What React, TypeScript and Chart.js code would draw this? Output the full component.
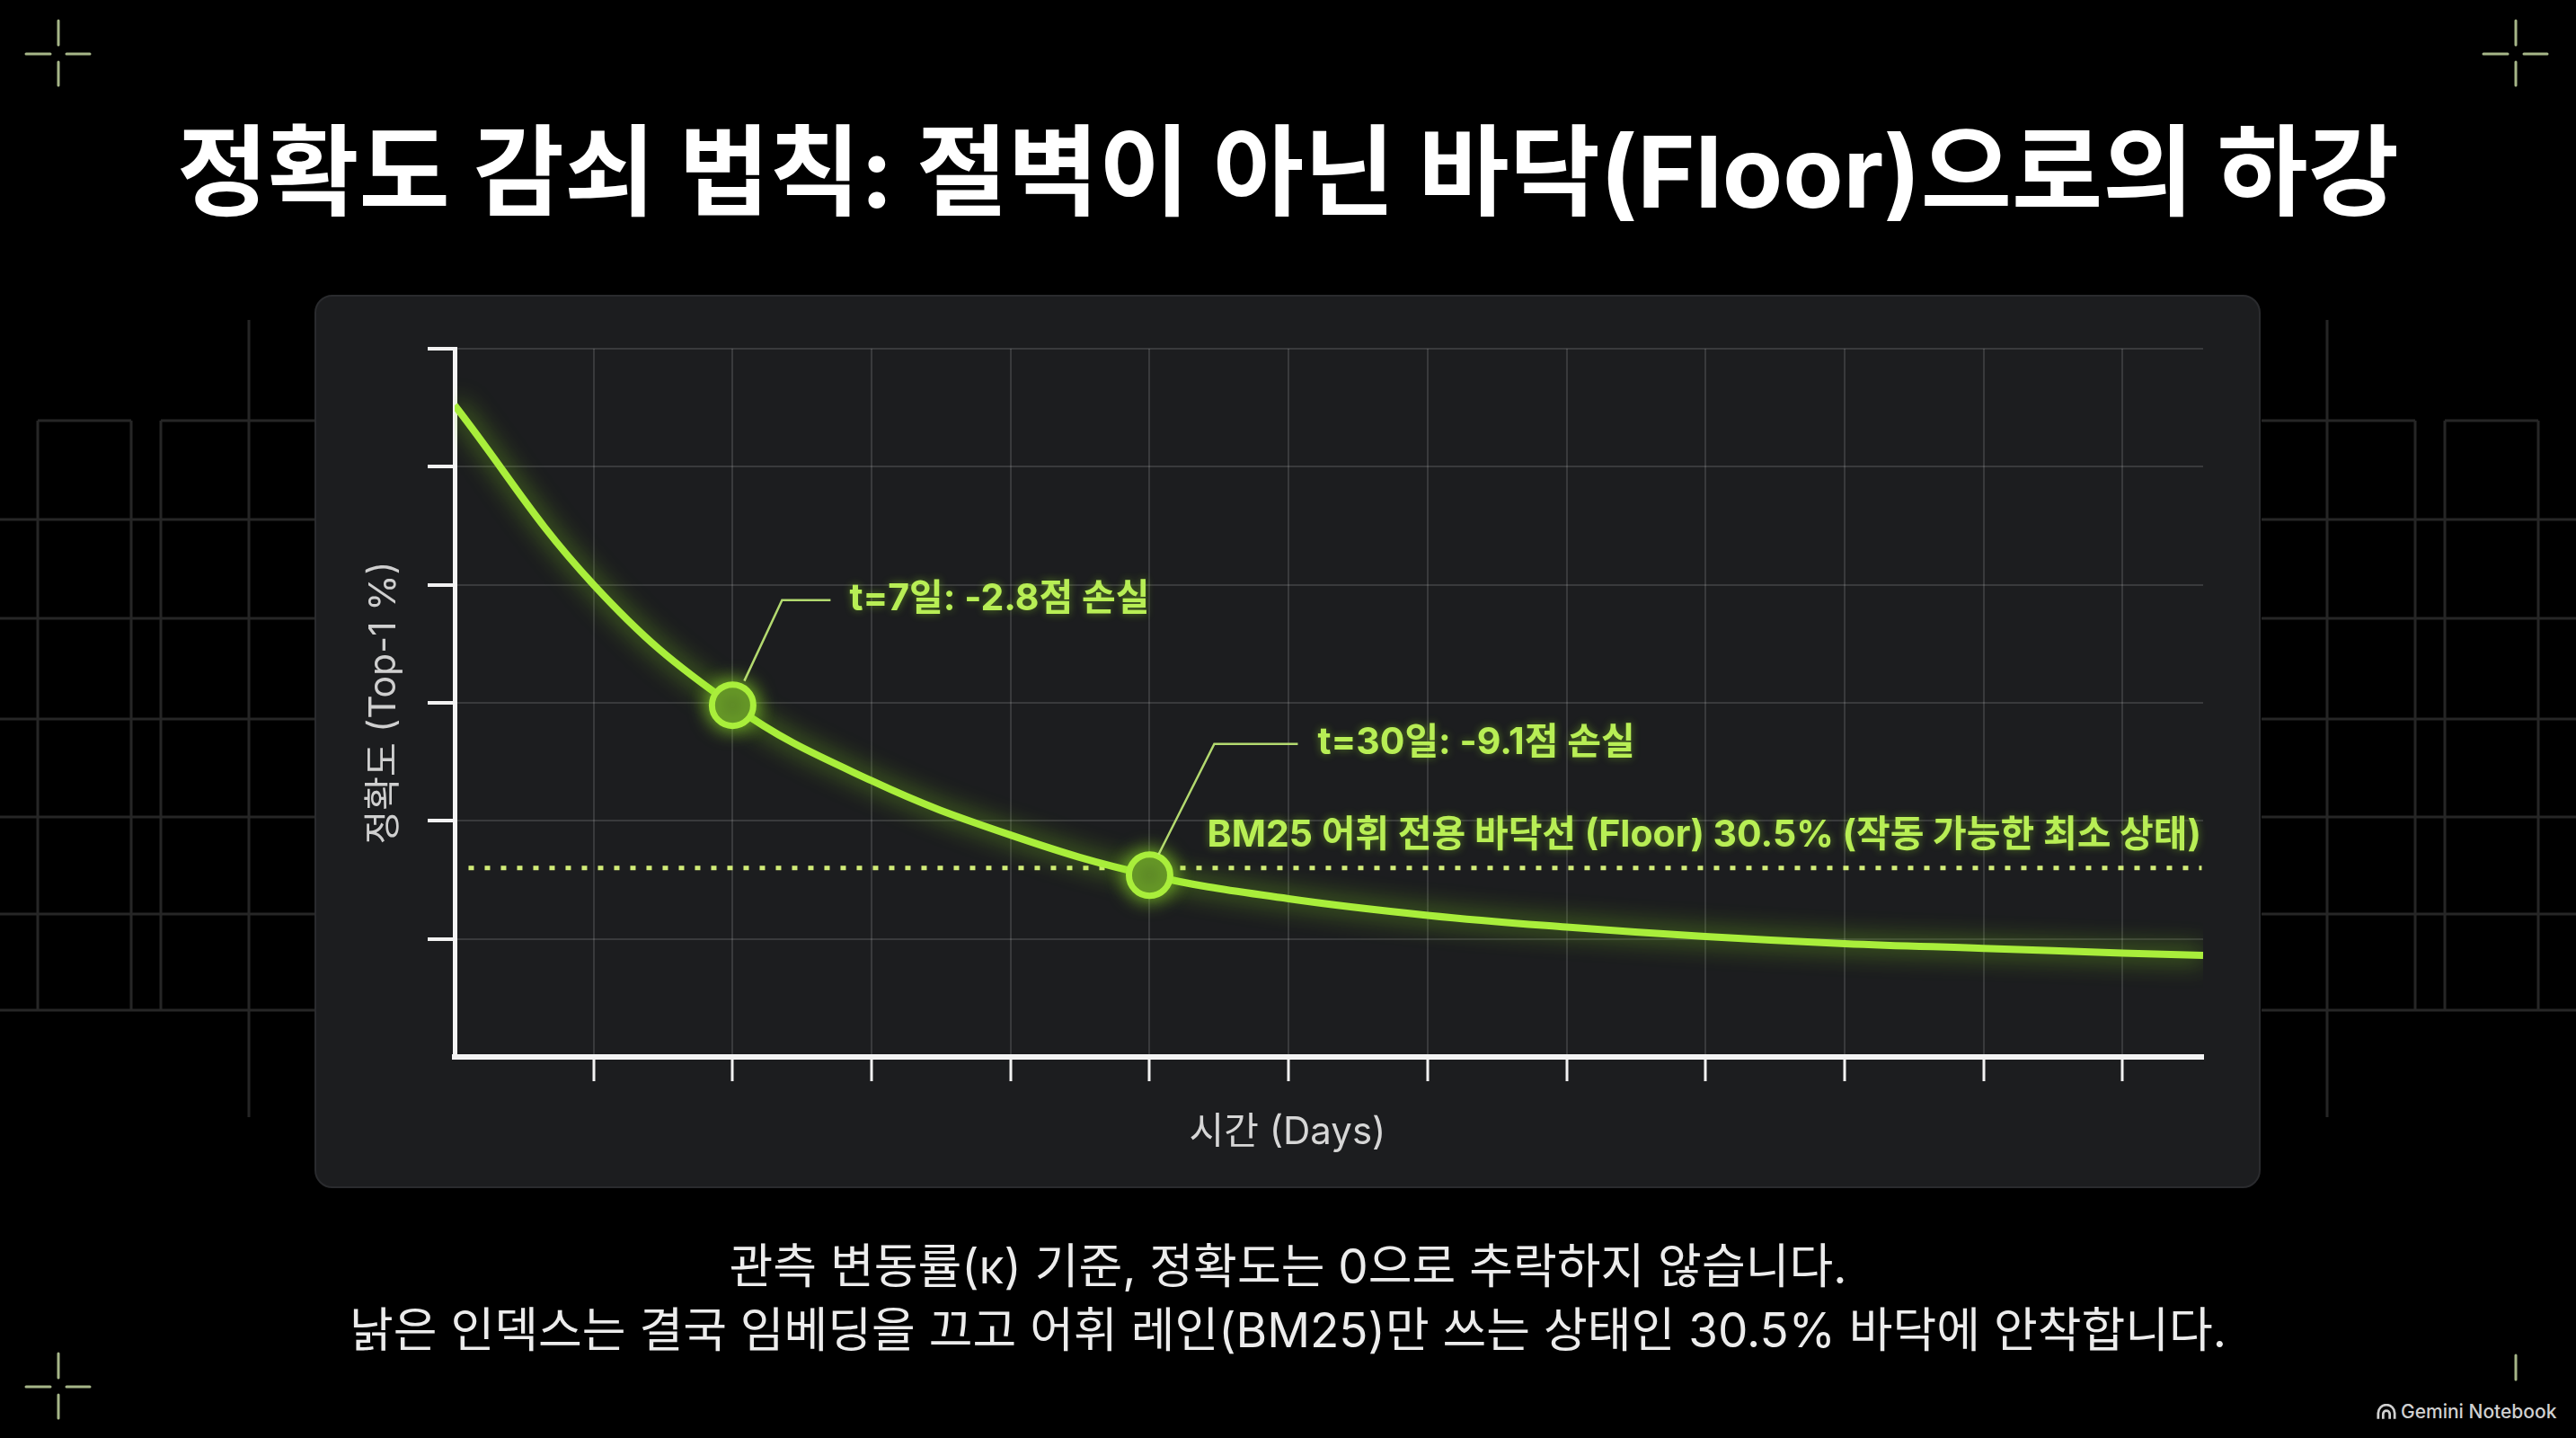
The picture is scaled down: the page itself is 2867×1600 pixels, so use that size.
import React, { useEffect, useRef } from 'react';
import { Chart, registerables } from 'chart.js';

Chart.register(...registerables);

// ---------- data ----------
const xPositions = [0, 1, 2, 3, 4, 5, 6, 7, 8, 9, 10, 11, 12, 12.58];
const accuracy = [50.1, 42.5, 37.4, 34.2, 31.9, 30.2, 29.2, 28.5, 28.0, 27.6, 27.3, 27.1, 26.9, 26.8];
const floorValue = 30.5;
const floorSpan = [0.1, 12.57];
const markerX = [2, 5];
const markerY = [37.4, 30.2];
const markerLabels = ['t=7일: -2.8점 손실', 't=30일: -9.1점 손실'];
const floorLabel = 'BM25 어휘 전용 바닥선 (Floor) 30.5% (작동 가능한 최소 상태)';
const xAxisTitle = '시간 (Days)';
const yAxisTitle = '정확도 (Top-1 %)';
const xRange = [0, 12.58];
const yRange = [22.5, 52.5];
const xStep = 1;
const yStep = 5;
const titleText = '정확도 감쇠 법칙: 절벽이 아닌 바닥(Floor)으로의 하강';
const footerLines = [
  '관측 변동률(κ) 기준, 정확도는 0으로 추락하지 않습니다.',
  '낡은 인덱스는 결국 임베딩을 끄고 어휘 레인(BM25)만 쓰는 상태인 30.5% 바닥에 안착합니다.',
];
const watermark = 'Gemini Notebook';

// ---------- styles ----------
const FONT = "Inter, 'Noto Sans CJK KR', sans-serif";
const LIME = '#a9ee3b';
const LABEL = '#b8ee55';
const W = 2867;
const H = 1600;
const PANEL = { left: 350, top: 328, width: 2166, height: 994 };

const glowPlugin = {
  id: 'glow',
  beforeDatasetDraw(chart: any, args: any) {
    const ds = chart.data.datasets[args.index];
    const ctx = chart.ctx;
    ctx.save();
    if (ds.glowBlur) {
      ctx.shadowColor = ds.glowColor;
      ctx.shadowBlur = ds.glowBlur;
    }
  },
  afterDatasetDraw(chart: any) {
    chart.ctx.restore();
  },
};

const annotationPlugin = {
  id: 'annotations',
  afterDatasetsDraw(chart: any) {
    const { ctx, chartArea } = chart;
    const x = chart.scales.x;
    const y = chart.scales.y;
    const layouts = [
      { start: [13, -27], elbow: [55, -117], end: [109, -117], text: [130, -118] },
      { start: [10, -23], elbow: [72, -146], end: [165, -146], text: [187, -147] },
    ];
    ctx.save();
    markerX.forEach((mx, i) => {
      const px = x.getPixelForValue(mx);
      const py = y.getPixelForValue(markerY[i]);
      const L = layouts[i];
      ctx.strokeStyle = 'rgba(196,238,120,0.9)';
      ctx.lineWidth = 2.5;
      ctx.beginPath();
      ctx.moveTo(px + L.start[0], py + L.start[1]);
      ctx.lineTo(px + L.elbow[0], py + L.elbow[1]);
      ctx.lineTo(px + L.end[0], py + L.end[1]);
      ctx.stroke();
      ctx.font = `bold 41px ${FONT}`;
      ctx.fillStyle = LABEL;
      ctx.textBaseline = 'middle';
      ctx.textAlign = 'left';
      ctx.shadowColor = 'rgba(150,230,40,0.45)';
      ctx.shadowBlur = 10;
      ctx.fillText(markerLabels[i], px + L.text[0], py + L.text[1]);
      ctx.shadowBlur = 0;
    });
    const fy = y.getPixelForValue(floorValue);
    ctx.font = `bold 41px ${FONT}`;
    ctx.fillStyle = LABEL;
    ctx.textAlign = 'right';
    ctx.textBaseline = 'middle';
    ctx.shadowColor = 'rgba(150,230,40,0.45)';
    ctx.shadowBlur = 10;
    ctx.fillText(floorLabel, chartArea.right - 2, fy - 36);
    ctx.shadowBlur = 0;
    ctx.font = `42px ${FONT}`;
    ctx.fillStyle = '#d6d6d6';
    ctx.textAlign = 'center';
    ctx.fillText(xAxisTitle, chart.width / 2, 932);
    ctx.restore();
  },
};

function DecayChart() {
  const ref = useRef<HTMLCanvasElement | null>(null);
  useEffect(() => {
    if (!ref.current) return;
    const chart = new Chart(ref.current, {
      type: 'line',
      data: {
        datasets: [
          {
            label: 'markers',
            data: markerX.map((v, i) => ({ x: v, y: markerY[i] })),
            showLine: false,
            pointRadius: 23,
            pointHoverRadius: 23,
            pointBorderWidth: 7,
            pointBackgroundColor: '#587f27',
            pointBorderColor: LIME,
            order: 0,
            glowBlur: 22,
            glowColor: 'rgba(150,235,40,0.8)',
          } as any,
          {
            label: 'accuracy',
            data: xPositions.map((v, i) => ({ x: v, y: accuracy[i] })),
            borderColor: LIME,
            borderWidth: 8,
            pointRadius: 0,
            tension: 0.4,
            order: 1,
            glowBlur: 28,
            glowColor: 'rgba(140,230,30,0.8)',
          } as any,
          {
            label: 'floor',
            data: floorSpan.map((v) => ({ x: v, y: floorValue })),
            borderColor: '#d2ec78',
            borderWidth: 5,
            borderDash: [6, 12],
            pointRadius: 0,
            order: 2,
          } as any,
        ],
      },
      options: {
        responsive: false,
        animation: false,
        devicePixelRatio: 1,
        events: [],
        layout: { padding: { left: 0, top: 60, right: 64, bottom: 0 } },
        plugins: { legend: { display: false }, tooltip: { enabled: false } },
        scales: {
          x: {
            type: 'linear',
            min: xRange[0],
            max: xRange[1],
            afterFit: (s: any) => {
              s.height = 146;
            },
            ticks: { display: false, stepSize: xStep, includeBounds: false },
            grid: {
              color: (c: any) => (c.index === 0 ? 'transparent' : 'rgba(255,255,255,0.13)'),
              lineWidth: 2,
              tickColor: (c: any) => (c.index === 0 ? 'transparent' : '#f2f2f2'),
              tickWidth: 3,
              tickLength: 27,
              drawTicks: true,
            },
            border: { display: true, color: '#f4f4f4', width: 6 },
          },
          y: {
            type: 'linear',
            min: yRange[0],
            max: yRange[1],
            afterFit: (s: any) => {
              s.width = 156;
            },
            ticks: { display: false, stepSize: yStep },
            grid: {
              color: (c: any) => (c.index === 0 ? 'transparent' : 'rgba(255,255,255,0.13)'),
              lineWidth: 2,
              tickColor: (c: any) => (c.index === 0 ? 'transparent' : '#f2f2f2'),
              tickWidth: 4,
              tickLength: 30,
              drawTicks: true,
            },
            border: { display: true, color: '#f4f4f4', width: 5 },
            title: {
              display: true,
              text: yAxisTitle,
              color: '#cfcfcf',
              font: { family: FONT, size: 41, weight: 'normal' },
              padding: { top: 53, bottom: 0 },
            },
          },
        },
      } as any,
      plugins: [glowPlugin, annotationPlugin],
    });
    return () => chart.destroy();
  }, []);
  return (
    <canvas
      ref={ref}
      width={PANEL.width}
      height={PANEL.height}
      style={{ position: 'absolute', left: PANEL.left, top: PANEL.top, width: PANEL.width, height: PANEL.height }}
    />
  );
}

function Decor() {
  const leftH = [578, 688, 800, 909, 1017, 1124];
  const segs: number[][] = [];
  leftH.forEach((y) => segs.push([0, y, 350, y]));
  segs.push([42, 468, 146, 468], [179, 468, 350, 468]);
  segs.push([42, 468, 42, 1124], [146, 468, 146, 1124], [179, 468, 179, 1124]);
  segs.push([277, 356, 277, 1243]);
  const all = [...segs, ...segs.map(([a, b, c, d]) => [W - a, b, W - c, d])];
  const cross = (cx: number, cy: number, topOnly = false) =>
    topOnly
      ? [[cx, cy - 35, cx, cy - 8]]
      : [
          [cx, cy - 37, cx, cy - 10],
          [cx, cy + 9, cx, cy + 35],
          [cx - 36, cy, cx - 9, cy],
          [cx + 9, cy, cx + 35, cy],
        ];
  const crosses = [...cross(65, 60), ...cross(2800, 60), ...cross(65, 1543), ...cross(2800, 1543, true)];
  return (
    <svg width={W} height={H} style={{ position: 'absolute', left: 0, top: 0 }}>
      <g stroke="#262626" strokeWidth={3} fill="none">
        {all.map((s, i) => (
          <line key={i} x1={s[0]} y1={s[1]} x2={s[2]} y2={s[3]} />
        ))}
      </g>
      <g stroke="#a6b688" strokeWidth={3} strokeLinecap="round">
        {crosses.map((s, i) => (
          <line key={i} x1={s[0]} y1={s[1]} x2={s[2]} y2={s[3]} />
        ))}
      </g>
    </svg>
  );
}

export default function App() {
  useEffect(() => {
    document.body.style.margin = '0';
    document.body.style.background = '#000';
  }, []);
  return (
    <div
      style={{
        position: 'absolute',
        left: 0,
        top: 0,
        width: W,
        height: H,
        background: '#000',
        overflow: 'hidden',
        fontFamily: FONT,
      }}
    >
      <Decor />
      <div
        style={{
          position: 'absolute',
          left: 0,
          top: 126,
          width: W,
          textAlign: 'center',
          fontSize: 110,
          fontWeight: 700,
          lineHeight: '130px',
          color: '#ffffff',
        }}
      >
        {titleText}
      </div>
      <div
        style={{
          position: 'absolute',
          left: PANEL.left,
          top: PANEL.top,
          width: PANEL.width,
          height: PANEL.height,
          boxSizing: 'border-box',
          background: '#1c1d1f',
          border: '2px solid #2a2b2e',
          borderRadius: 20,
        }}
      />
      <DecayChart />
      <div
        style={{
          position: 'absolute',
          left: 0,
          top: 1374,
          width: W,
          textAlign: 'center',
          fontSize: 53,
          lineHeight: '71px',
          color: '#ececec',
        }}
      >
        {footerLines.map((l, i) => (
          <div key={i}>{l}</div>
        ))}
      </div>
      <div
        style={{
          position: 'absolute',
          left: 2645,
          top: 1555,
          height: 30,
          display: 'flex',
          alignItems: 'center',
          gap: 5,
          color: '#d0d0d0',
          fontSize: 21,
          fontWeight: 500,
        }}
      >
        <svg width={22} height={17} viewBox="0 0 24 18">
          <path d="M2 18 V11 A10 10 0 0 1 22 11 V18" stroke="#d0d0d0" strokeWidth={3} fill="none" />
          <path d="M8 18 V12 A4 4 0 0 1 16 12 V18" stroke="#d0d0d0" strokeWidth={3} fill="none" />
        </svg>
        <span>{watermark}</span>
      </div>
    </div>
  );
}
